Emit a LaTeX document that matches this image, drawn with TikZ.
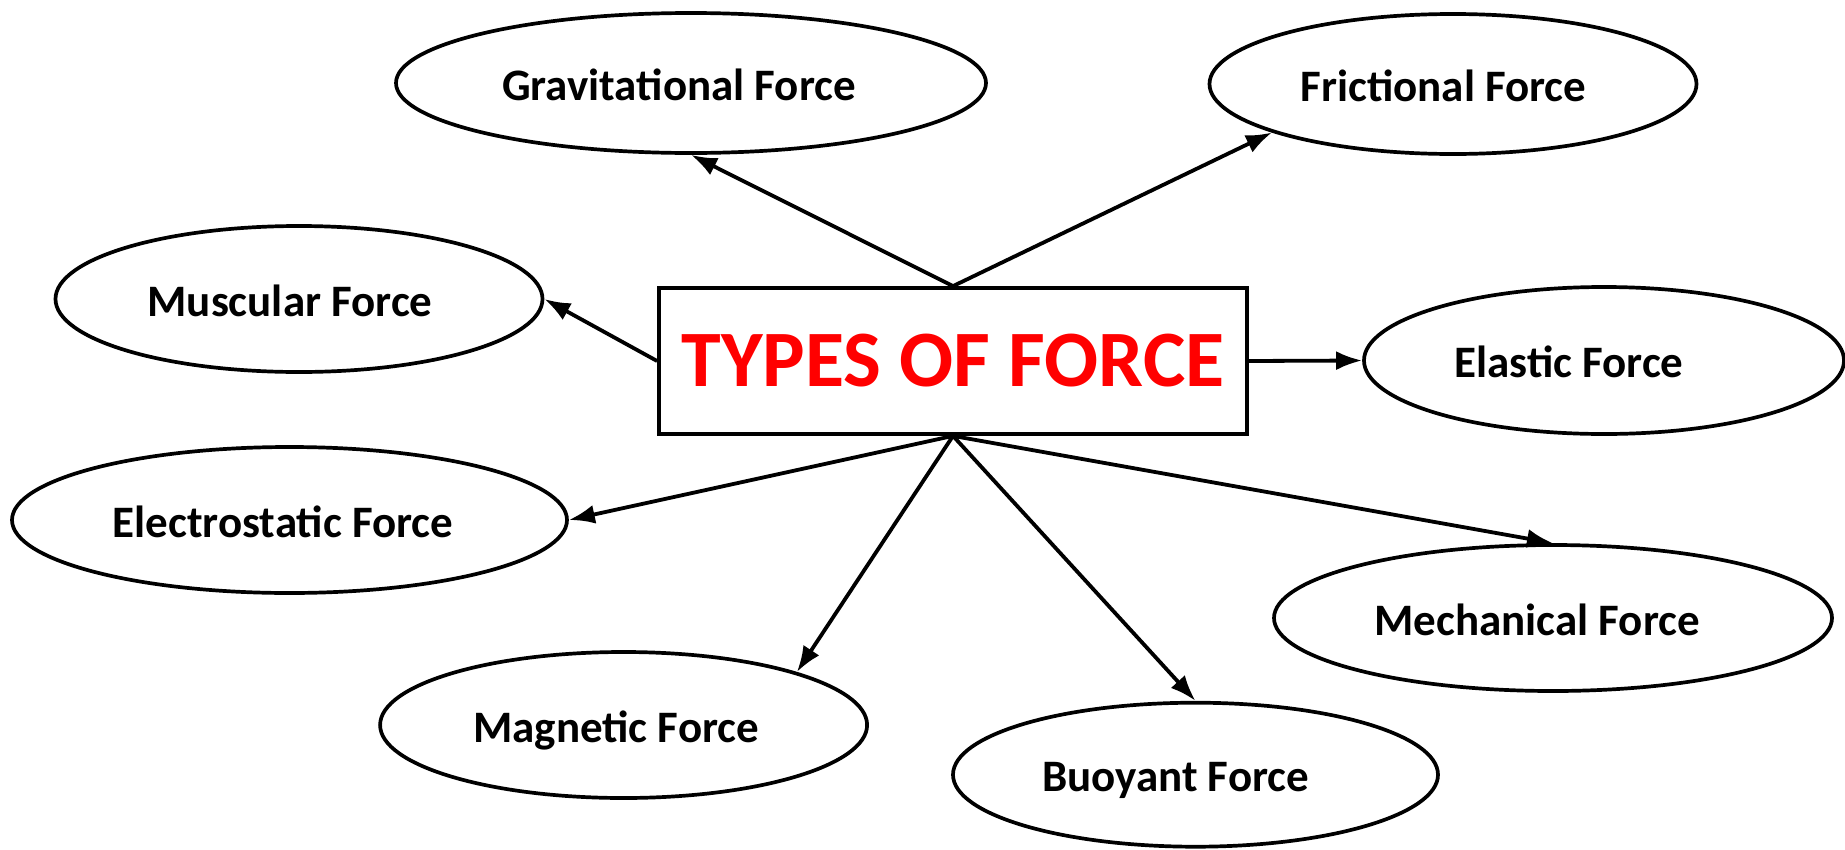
\documentclass[tikz,border=0pt]{standalone}
\usepackage{fontspec}
\setmainfont{Carlito}
\usetikzlibrary{shapes.geometric,arrows.meta}
\begin{document}
\begin{tikzpicture}[x=1pt,y=-1pt,
  force/.style={draw,ellipse,line width=3.7pt,inner sep=0pt,text height=34pt,text depth=0pt,
    font=\fontsize{45}{50}\selectfont\bfseries},
  link/.style={line width=3.8pt,-{Latex[length=26pt,width=19pt]}}]
\useasboundingbox (0,0) rectangle (1845,849);
\node[draw,line width=3.8pt,minimum width=588pt,minimum height=146pt,inner sep=0pt,
  text=red,font=\fontsize{80}{88}\selectfont\bfseries] (box) at (953,361) {TYPES OF FORCE};
\node[force,minimum width=590pt,minimum height=140pt] (grav) at (691,83) {Gravitational Force\kern24pt};
\node[force,minimum width=487pt,minimum height=140pt] (fric) at (1453,84) {Frictional Force\kern19pt};
\node[force,minimum width=487pt,minimum height=146pt] (musc) at (299,299) {Muscular Force\kern18pt};
\node[force,minimum width=480pt,minimum height=147pt] (elas) at (1604,360.5) {Elastic Force\kern70pt};
\node[force,minimum width=555pt,minimum height=146pt] (elec) at (289.5,520) {Electrostatic Force\kern13pt};
\node[force,minimum width=558pt,minimum height=146pt] (mech) at (1553,618) {Mechanical Force\kern32pt};
\node[force,minimum width=487pt,minimum height=146pt] (magn) at (623.6,725) {Magnetic Force\kern15pt};
\node[force,minimum width=485pt,minimum height=144pt] (buoy) at (1195.5,774.7) {Buoyant Force\kern40pt};
\draw[link] (box.north) -- (grav.south);
\draw[link] (box.north) -- (fric.195.8);
\draw[link] (box.west) -- (musc.east);
\draw[link] (box.east) -- (elas.west);
\draw[link] (box.south) -- (elec.east);
\draw[link] (box.south) -- (magn.17);
\draw[link] (box.south) -- (buoy.north);
\draw[link] (box.south) -- (mech.north);
\end{tikzpicture}
\end{document}
